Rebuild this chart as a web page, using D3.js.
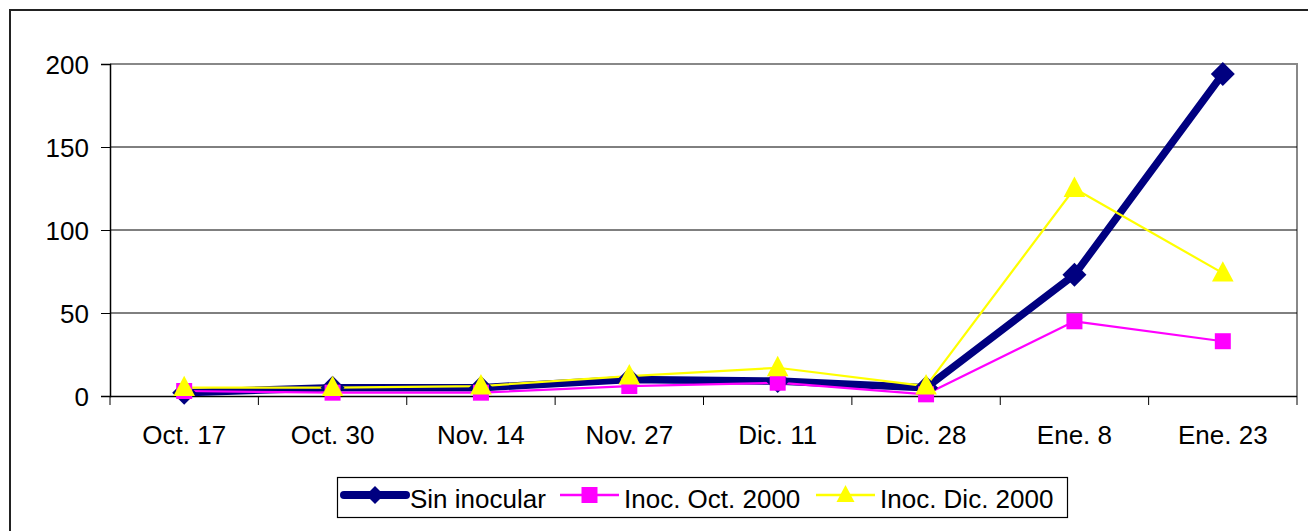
<!DOCTYPE html>
<html><head><meta charset="utf-8">
<script src="https://cdn.jsdelivr.net/npm/d3@7"></script>
<style>body{margin:0;background:#fff}svg{display:block;font-family:"Liberation Sans",Arial,sans-serif}</style>
</head><body><svg id="c" width="1308" height="531"></svg>
<script>
const categories = ["Oct. 17","Oct. 30","Nov. 14","Nov. 27","Dic. 11","Dic. 28","Ene. 8","Ene. 23"];
const sinInocular = [2, 5, 5, 10, 9, 5, 73, 194];
const inocOct = [3, 2, 2, 6, 8, 1, 45, 33];
const inocDic = [5, 5, 6, 12, 17, 6, 125, 74];
const yTicks = [0, 50, 100, 150, 200];
const seriesNames = ["Sin inocular","Inoc. Oct. 2000","Inoc. Dic. 2000"];

const svg = d3.select("#c");
const L = 110, R = 1297, T = 64, B = 396;
const x = d3.scaleBand().domain(categories).range([L, R]);
const y = d3.scaleLinear().domain([0, 200]).range([B, T]);

// outer border
svg.append("path").attr("d", "M10,531 L10,10 L1308,10").attr("fill","none").attr("stroke","#222").attr("stroke-width",2);

// plot area border (gray)
svg.append("path").attr("d", `M${L},${T} L${R},${T} L${R},${B}`).attr("fill","none").attr("stroke","#888").attr("stroke-width",2);

// gridlines
svg.append("g").selectAll("line").data(yTicks.filter(t => t > 0 && t < 200)).join("line")
  .attr("x1", L).attr("x2", R).attr("y1", d => y(d)).attr("y2", d => y(d))
  .attr("stroke", "#000").attr("stroke-width", 1);

// y axis
const ya = svg.append("g").attr("transform", `translate(${L},0)`)
  .call(d3.axisLeft(y).tickValues(yTicks).tickSize(9).tickPadding(12).tickFormat(d3.format("d")));
ya.select(".domain").attr("stroke","#000").attr("stroke-width",1.5);
ya.selectAll(".tick line").attr("stroke","#000");
ya.selectAll("text").attr("font-size", 26).attr("font-family", "Liberation Sans, Arial, sans-serif").attr("fill","#000").attr("dy","0.36em");

// x axis
const xa = svg.append("g").attr("transform", `translate(0,${B})`)
  .call(d3.axisBottom(x).tickSize(0).tickPadding(0));
xa.select(".domain").attr("stroke","#000").attr("stroke-width",1.5).attr("d", `M${L},0.5H${R}`);
xa.selectAll(".tick line").remove();
xa.selectAll("text").attr("font-size", 26).attr("font-family", "Liberation Sans, Arial, sans-serif").attr("fill","#000").attr("dy", null).attr("y", 48);
// boundary ticks
const bounds = categories.map(c => x(c)).concat([R]);
svg.append("g").selectAll("line").data(bounds).join("line")
  .attr("x1", d => d).attr("x2", d => d).attr("y1", B).attr("y2", B + 9)
  .attr("stroke", "#000").attr("stroke-width", 1);

const cx = c => x(c) + x.bandwidth() / 2;
const line = d3.line().x((d, i) => cx(categories[i])).y(d => y(d));

const series = [
  {name: seriesNames[0], values: sinInocular, color: "#000080", width: 7.5, sym: "diamond", size: 12},
  {name: seriesNames[1], values: inocOct, color: "#FF00FF", width: 2.2, sym: "square", size: 8},
  {name: seriesNames[2], values: inocDic, color: "#FFFF00", width: 2.2, sym: "triangle", size: 12}
];

function markerPath(s, r) {
  if (s.sym === "diamond") return `M0,${-r}L${r},0L0,${r}L${-r},0Z`;
  if (s.sym === "square") return `M${-r},${-r}H${r}V${r}H${-r}Z`;
  return `M0,${-r}L${r*0.9},${r*0.7}H${-r*0.9}Z`;
}

series.forEach(s => {
  svg.append("path").datum(s.values).attr("d", line).attr("fill","none")
    .attr("stroke", s.color).attr("stroke-width", s.width).attr("stroke-linejoin","round");
});
series.forEach(s => {
  svg.append("g").selectAll("path").data(s.values).join("path")
    .attr("transform", (d, i) => `translate(${cx(categories[i])},${y(d)})`)
    .attr("d", markerPath(s, s.size)).attr("fill", s.color);
});

// legend
const lg = svg.append("g");
lg.append("rect").attr("x", 337.5).attr("y", 477.5).attr("width", 730).attr("height", 40)
  .attr("fill","#fff").attr("stroke","#000").attr("stroke-width",1.2);
const items = [
  {s: series[0], x0: 344, x1: 406, tx: 410},
  {s: series[1], x0: 560, x1: 619, tx: 624},
  {s: series[2], x0: 816, x1: 875, tx: 880}
];
items.forEach(it => {
  const ly = 495;
  lg.append("line").attr("x1", it.x0).attr("x2", it.x1).attr("y1", ly).attr("y2", ly)
    .attr("stroke", it.s.color).attr("stroke-width", it.s === series[0] ? 8 : 2.5).attr("stroke-linecap", it.s === series[0] ? "round" : "butt");
  lg.append("path").attr("transform", `translate(${(it.x0+it.x1)/2},${ly})`)
    .attr("d", markerPath(it.s, it.s === series[0] ? 9 : (it.s === series[2] ? 10 : 8))).attr("fill", it.s.color);
  lg.append("text").attr("x", it.tx).attr("y", 508).attr("font-size", 26).attr("fill","#000").text(it.s.name);
});
</script></body></html>
